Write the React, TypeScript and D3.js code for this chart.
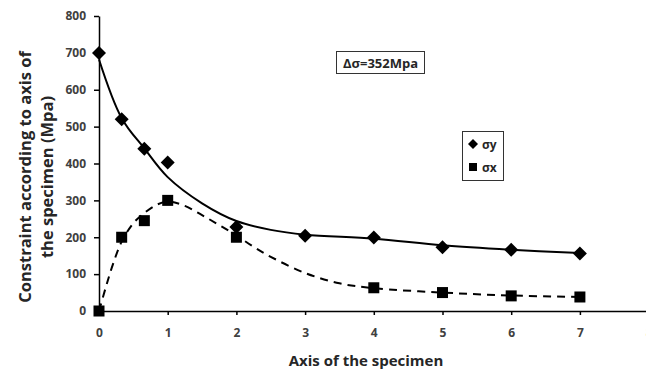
import { useEffect, useRef } from 'react';
import * as d3 from 'd3';

// measured points
const posX = [0, 0.33, 0.66, 1, 2, 3, 4, 5, 6, 7];
const sigmaY = [700, 520, 440, 403, 228, 204, 199, 173, 166, 156];
const posXx = [0, 0.33, 0.66, 1, 2, 4, 5, 6, 7];
const sigmaX = [0, 200, 245, 300, 200, 63, 50, 41, 38];

// trend curves
const fitYx = [0, 0.33, 0.66, 1, 1.5, 2, 2.5, 3, 4, 5, 6, 7];
const fitYv = [682, 523, 441, 363, 292, 244, 220, 207, 196, 178, 166, 157];
const fitXx = [0, 0.1, 0.2, 0.33, 0.5, 0.66, 0.85, 1, 1.25, 1.5, 1.75, 2, 2.25, 2.5, 3, 3.5, 4, 5, 6, 7];
const fitXv = [0, 65, 125, 188, 238, 266, 289, 297, 285, 260, 233, 205, 174, 147, 103, 75, 62, 50, 42, 38];

const xTicks = [0, 1, 2, 3, 4, 5, 6, 7, 8];
const yTicks = [0, 100, 200, 300, 400, 500, 600, 700, 800];

const FONT = '"Open Sans", "Liberation Sans", sans-serif';

export default function App() {
  const svgRef = useRef(null);

  useEffect(() => {
    const W = 646;
    const H = 369;
    const svg = d3.select(svgRef.current);
    svg.selectAll('*').remove();
    svg.attr('width', W).attr('height', H);

    svg.append('rect').attr('width', W).attr('height', H).attr('fill', '#fff');

    const x = d3.scaleLinear().domain([0, 8]).range([99, 648.6]);
    const y = d3.scaleLinear().domain([0, 800]).range([311, 16]);

    // y axis
    const yAxis = svg.append('g')
      .attr('transform', `translate(${x(0)},0)`)
      .call(d3.axisLeft(y).tickValues(yTicks).tickSize(5).tickSizeOuter(0));
    yAxis.select('.domain').attr('stroke', '#000').attr('stroke-width', 1.5);
    yAxis.selectAll('.tick line').attr('stroke', '#000').attr('stroke-width', 1.5);
    yAxis.selectAll('.tick text')
      .attr('x', -13)
      .attr('fill', '#404040')
      .style('font-family', FONT)
      .style('font-weight', 'bold')
      .style('font-size', '12px');

    // x axis
    const xAxis = svg.append('g')
      .attr('transform', `translate(0,${y(0)})`)
      .call(d3.axisBottom(x).tickValues(xTicks).tickSize(4).tickSizeOuter(0));
    xAxis.select('.domain').attr('stroke', '#000').attr('stroke-width', 1.5);
    xAxis.selectAll('.tick line').attr('stroke', '#000').attr('stroke-width', 1.5);
    xAxis.selectAll('.tick text')
      .attr('y', 17)
      .attr('fill', '#404040')
      .style('font-family', FONT)
      .style('font-weight', 'bold')
      .style('font-size', '12px');

    // axis titles
    svg.append('text')
      .attr('x', 366)
      .attr('y', 366)
      .attr('text-anchor', 'middle')
      .attr('fill', '#262626')
      .style('font-family', FONT)
      .style('font-weight', 'bold')
      .style('font-size', '15px')
      .text('Axis of the specimen');

    const yTitle = svg.append('text')
      .attr('transform', 'translate(0,177) rotate(-90)')
      .attr('text-anchor', 'middle')
      .attr('fill', '#262626')
      .style('font-family', FONT)
      .style('font-weight', 'bold')
      .style('font-size', '16.5px');
    yTitle.append('tspan').attr('x', 0).attr('y', 31).text('Constraint according to axis of');
    yTitle.append('tspan').attr('x', 0).attr('y', 53).text('the specimen  (Mpa)');

    // trend lines
    const line = d3.line().curve(d3.curveCatmullRom.alpha(0.5))
      .x(d => x(d[0]))
      .y(d => y(d[1]));

    svg.append('path')
      .datum(fitYx.map((v, i) => [v, fitYv[i]]))
      .attr('fill', 'none')
      .attr('stroke', '#000')
      .attr('stroke-width', 2)
      .attr('d', line);

    svg.append('path')
      .datum(fitXx.map((v, i) => [v, fitXv[i]]))
      .attr('fill', 'none')
      .attr('stroke', '#000')
      .attr('stroke-width', 2)
      .attr('stroke-dasharray', '8,6')
      .attr('d', line);

    // markers
    const diamond = 'M0,-7L7,0L0,7L-7,0Z';
    svg.append('g').selectAll('path')
      .data(posX.map((v, i) => [v, sigmaY[i]]))
      .join('path')
      .attr('transform', d => `translate(${x(d[0])},${y(d[1])})`)
      .attr('d', diamond)
      .attr('fill', '#000');

    svg.append('g').selectAll('rect')
      .data(posXx.map((v, i) => [v, sigmaX[i]]))
      .join('rect')
      .attr('x', d => x(d[0]) - 5.5)
      .attr('y', d => y(d[1]) - 5.5)
      .attr('width', 11)
      .attr('height', 11)
      .attr('fill', '#000');

    // annotation box
    svg.append('rect')
      .attr('x', 336.5).attr('y', 51.5).attr('width', 88).attr('height', 22)
      .attr('fill', '#fff').attr('stroke', '#333').attr('stroke-width', 1);
    svg.append('text')
      .attr('x', 380.5).attr('y', 67.5)
      .attr('text-anchor', 'middle')
      .attr('fill', '#262626')
      .style('font-family', FONT)
      .style('font-weight', 'bold')
      .style('font-size', '13px')
      .text('Δσ=352Mpa');

    // legend
    const lg = svg.append('g');
    lg.append('rect')
      .attr('x', 462.5).attr('y', 131.5).attr('width', 41).attr('height', 49)
      .attr('fill', '#fff').attr('stroke', '#333').attr('stroke-width', 1);
    lg.append('path')
      .attr('transform', 'translate(473,144)')
      .attr('d', 'M0,-5L5,0L0,5L-5,0Z')
      .attr('fill', '#000');
    lg.append('rect')
      .attr('x', 469).attr('y', 163).attr('width', 8).attr('height', 8)
      .attr('fill', '#000');
    [['σy', 148.5], ['σx', 171.5]].forEach(([t, yy]) => {
      lg.append('text')
        .attr('x', 482).attr('y', yy)
        .attr('fill', '#262626')
        .style('font-family', FONT)
        .style('font-weight', 'bold')
        .style('font-size', '12px')
        .text(t);
    });
  }, []);

  return (
    <svg ref={svgRef} style={{ position: 'absolute', left: 0, top: 0, display: 'block' }}></svg>
  );
}
